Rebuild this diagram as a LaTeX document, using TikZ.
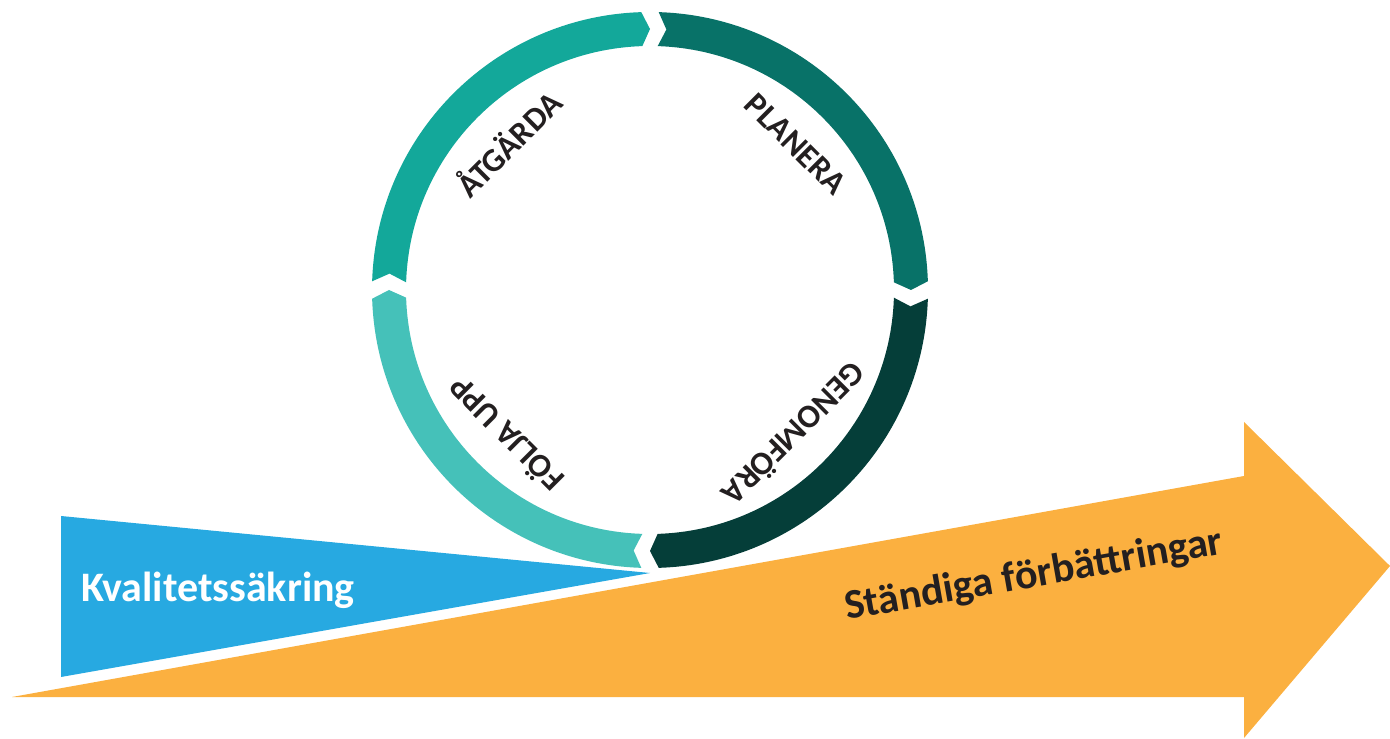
\documentclass[tikz,border=0pt]{standalone}
\usepackage{fontspec}
\setmainfont{Carlito}
\definecolor{atgarda}{HTML}{13A89A}
\definecolor{planera}{HTML}{087268}
\definecolor{genomfora}{HTML}{053E39}
\definecolor{foljaupp}{HTML}{45C1B9}
\definecolor{kvalitet}{HTML}{27A9E1}
\definecolor{standig}{HTML}{FBB040}
\definecolor{textdark}{HTML}{231F20}
\tikzset{
  ring label/.style={
    font=\bfseries\fontsize{16.5}{19}\selectfont,
    text=textdark,
    inner sep=0pt
  },
  band label/.style={
    font=\bfseries\fontsize{21}{25}\selectfont,
    inner sep=0pt,
    anchor=base west
  }
}

\begin{document}
\begin{tikzpicture}[x=0.5pt,y=0.5pt]
\def\R{278}
\def\r{244}
\def\m{261}
\def\h{1.8}
\def\d{1.8}
\useasboundingbox (0,0) rectangle (1390,738);
% band and arrow
\fill[standig] (12,41) -- (1244,262) -- (1244,316) -- (1390,172)
  -- (1244,0) -- (1244,41) -- cycle;
\fill[kvalitet] (61,222) -- (650,165) -- (61,61) -- cycle;
\node[band label, text=white] (kval) at (81,136) {Kvalitetssäkring};
\node[band label, text=textdark, rotate=10] (stand) at (847,118) {Ständiga förbättringar};
% the ring
\begin{scope}[shift={(650,448)}]
\foreach \s/\e/\col in {180/90/atgarda,90/0/planera,0/-90/genomfora,-90/-180/foljaupp}
  \fill[\col] ({\s-\h}:\R) arc[start angle=\s-\h, end angle=\e+\h, radius=\R]
    -- ({\e+\h-\d}:\m) -- ({\e+\h}:\r)
    arc[start angle=\e+\h, end angle=\s-\h, radius=\r]
    -- ({\s-\h-\d}:\m) -- cycle;
\node[ring label, rotate=45]   (atg) at (134:205)  {ÅTGÄRDA};
\node[ring label, rotate=-45]  (pla) at (45:206)   {PLANERA};
\node[ring label, rotate=-135] (gen) at (-45:205)  {GENOMFÖRA};
\node[ring label, rotate=135]  (fol) at (-135:205) {FÖLJA UPP};
\end{scope}
\end{tikzpicture}
\end{document}
